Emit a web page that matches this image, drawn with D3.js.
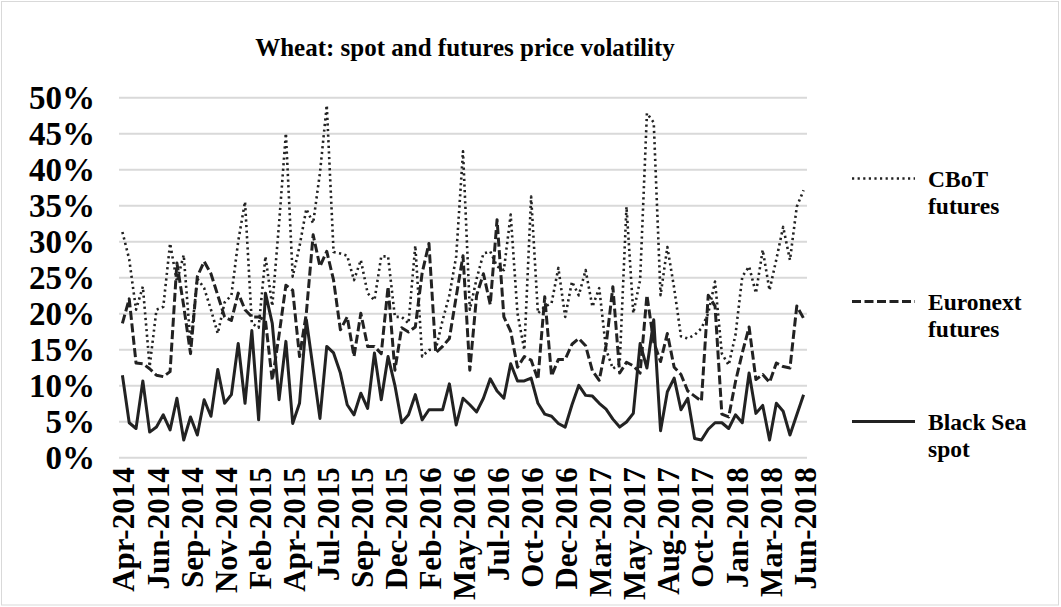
<!DOCTYPE html>
<html>
<head>
<meta charset="utf-8">
<script src="https://cdn.jsdelivr.net/npm/d3@7"></script>
<style>
  html, body { margin: 0; padding: 0; background: #ffffff; }
  svg { display: block; }
  text { font-family: "Liberation Serif", "Times New Roman", serif; font-weight: bold; fill: #000; }
</style>
</head>
<body>
<svg id="chart" width="1061" height="607"></svg>
<script>
// ---- data (semi-monthly observations, Apr-2014 .. Jun-2018) ----
const tickLabels = ["Apr-2014","Jun-2014","Sep-2014","Nov-2014","Feb-2015","Apr-2015","Jul-2015",
  "Sep-2015","Dec-2015","Feb-2016","May-2016","Jul-2016","Oct-2016","Dec-2016","Mar-2017",
  "May-2017","Aug-2017","Oct-2017","Jan-2018","Mar-2018","Jun-2018"];
const labelEvery = 5;

const cbot = [31.3,27.5,20.5,23.7,12.6,20.5,20.9,29.7,24.4,28.1,
  15.8,24.8,23.5,20.5,17.2,21.5,22.5,30.0,35.5,18.6,
  18.0,27.9,21.0,32.5,45.0,25.1,29.3,34.5,32.5,39.5,
  48.9,28.5,28.3,28.0,24.6,27.4,22.8,21.8,27.9,27.9,
  19.5,19.5,18.6,29.4,14.0,14.9,15.0,19.0,22.5,27.9,
  42.5,20.5,24.8,28.3,28.6,26.5,26.0,33.7,20.0,14.9,
  36.2,20.0,20.9,21.4,26.3,19.5,24.4,22.5,26.0,20.9,
  23.5,15.0,12.3,13.0,34.8,20.0,24.6,47.8,46.5,22.5,
  29.2,23.5,16.8,16.5,17.0,17.9,20.0,24.4,14.4,12.8,
  17.0,25.1,26.5,22.8,28.8,23.2,27.5,32.0,27.4,34.8,
  37.1];

const euronext = [18.6,22.0,13.1,13.0,12.3,11.4,11.2,11.9,27.0,21.0,
  14.4,25.1,27.2,25.5,22.5,19.5,19.0,22.8,20.5,19.5,
  19.5,19.0,10.7,17.0,23.9,23.2,14.0,20.0,30.9,26.5,
  28.6,24.6,17.7,19.5,14.0,20.0,15.4,15.4,14.4,23.7,
  12.1,18.0,17.4,18.1,25.6,29.7,14.5,15.4,16.5,22.3,
  28.0,12.1,22.5,25.5,21.2,33.0,19.5,17.5,12.5,14.0,
  13.5,10.8,22.3,11.3,13.6,13.6,15.7,16.5,15.5,12.0,
  10.7,15.5,23.7,11.7,13.2,12.7,11.7,22.5,16.0,13.3,
  17.2,12.5,11.5,9.2,8.5,7.8,22.5,21.0,6.0,5.6,
  10.5,14.5,18.1,10.8,11.5,10.4,13.1,12.6,12.4,21.0,
  19.3];

const blackSea = [11.4,4.8,4.0,10.6,3.5,4.2,5.9,3.8,8.2,2.4,
  5.6,3.1,8.0,5.7,12.2,7.5,8.7,15.8,7.5,17.6,
  5.2,22.8,18.6,8.0,16.1,4.7,7.5,19.1,12.3,5.4,
  15.4,14.5,11.7,7.3,5.9,8.9,6.8,14.5,8.0,14.0,
  10.0,4.8,5.9,8.7,5.2,6.6,6.6,6.6,10.2,4.5,
  8.2,7.3,6.3,8.2,10.9,9.2,8.2,13.0,10.6,10.6,
  11.0,7.5,6.0,5.7,4.7,4.2,7.3,10.0,8.6,8.5,
  7.5,6.7,5.3,4.2,4.9,6.1,15.8,12.4,19.1,3.7,
  9.1,11.0,6.6,8.2,2.6,2.4,3.9,4.8,4.8,4.0,
  5.9,4.8,11.7,6.1,7.2,2.4,7.5,6.4,3.1,5.9,
  8.7];

const seriesNames = [["CBoT", "futures"], ["Euronext", "futures"], ["Black Sea", "spot"]];
const yTicks = [0, 5, 10, 15, 20, 25, 30, 35, 40, 45, 50];

// ---- layout ----
const svg = d3.select("#chart");
const W = 1061, H = 607;
const plot = { left: 119, right: 807, top: 97.3, bottom: 457.3 };
const ink = "#222222";

svg.append("rect").attr("x", 1.5).attr("y", 1.5).attr("width", W - 4).attr("height", H - 3.5)
  .attr("fill", "#fff").attr("stroke", "#d9d9d9").attr("stroke-width", 1);

const idx = d3.range(cbot.length);
const x = d3.scalePoint().domain(idx).range([plot.left, plot.right]).padding(0.5);
const y = d3.scaleLinear().domain([0, 50]).range([plot.bottom, plot.top]);

// gridlines + y labels via axis
const yAxis = d3.axisLeft(y).tickValues(yTicks).tickFormat(d => d + "%")
  .tickSize(-(plot.right - plot.left)).tickPadding(24);
const gy = svg.append("g").attr("transform", `translate(${plot.left},0)`).call(yAxis);
gy.select(".domain").remove();
gy.selectAll(".tick line").attr("stroke", "#d9d9d9").attr("stroke-width", 2);
gy.selectAll(".tick text").attr("font-size", 33).attr("font-family", "Liberation Serif")
  .attr("font-weight", "bold").attr("fill", "#000").attr("dy", "0.34em");

// x axis labels
const xTickVals = idx.filter(i => i % labelEvery === 0);
const xAxis = d3.axisBottom(x).tickValues(xTickVals)
  .tickFormat(i => tickLabels[i / labelEvery]).tickSize(0).tickPadding(0);
const gx = svg.append("g").attr("transform", `translate(0,${plot.bottom})`).call(xAxis);
gx.select(".domain").remove();
gx.selectAll(".tick text")
  .attr("font-size", 31).attr("font-family", "Liberation Serif").attr("font-weight", "bold")
  .attr("fill", "#000")
  .attr("text-anchor", "end")
  .attr("transform", "translate(1,10) rotate(-90)")
  .attr("x", 0).attr("y", 0).attr("dy", "0.34em");

// lines
const line = d3.line().x((d, i) => x(i)).y(d => y(d));
const styles = [
  { data: cbot, dash: "2.2,3.4", width: 2.6 },
  { data: euronext, dash: "9,3.5", width: 3 },
  { data: blackSea, dash: null, width: 3 }
];
styles.forEach(s => {
  svg.append("path").datum(s.data).attr("d", line)
    .attr("fill", "none").attr("stroke", ink).attr("stroke-width", s.width)
    .attr("stroke-linejoin", "round").attr("stroke-linecap", "butt")
    .attr("stroke-dasharray", s.dash);
});

// title
svg.append("text").attr("x", 465).attr("y", 56).attr("text-anchor", "middle")
  .attr("font-size", 25).text("Wheat: spot and futures price volatility");

// legend
const legY = [178.5, 301.5, 421.5];
styles.forEach((s, k) => {
  const g = svg.append("g");
  g.append("line").attr("x1", 852).attr("x2", 915).attr("y1", legY[k]).attr("y2", legY[k])
    .attr("stroke", ink).attr("stroke-width", s.width).attr("stroke-dasharray", s.dash);
  seriesNames[k].forEach((t, j) => {
    g.append("text").attr("x", 928).attr("y", legY[k] + 8.5 + j * 27)
      .attr("font-size", 23.5).text(t);
  });
});
</script>
</body>
</html>
